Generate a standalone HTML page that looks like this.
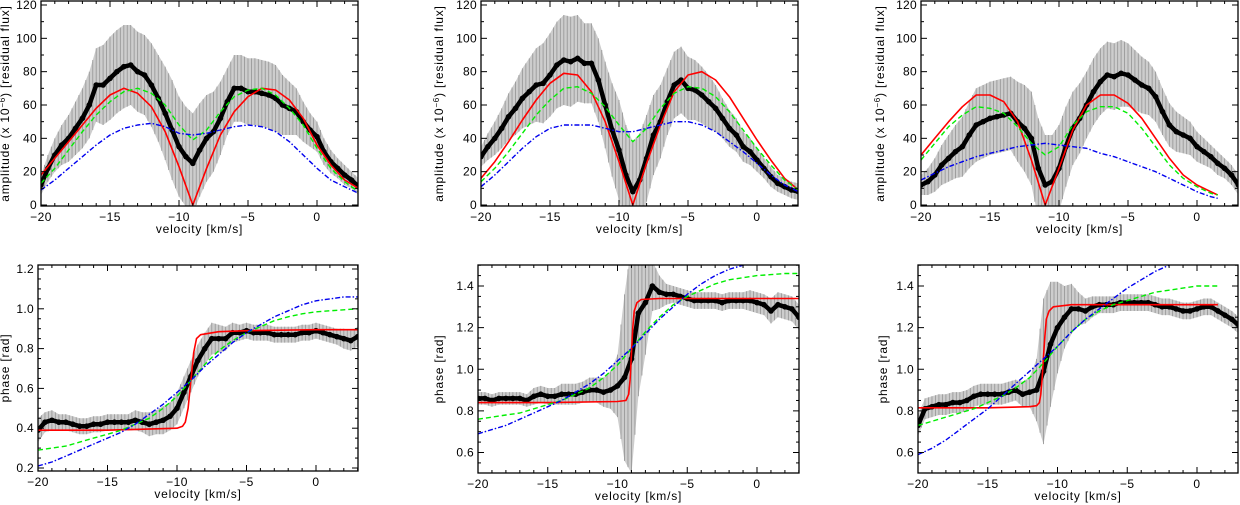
<!DOCTYPE html>
<html><head><meta charset="utf-8"><style>
body{margin:0;background:#fff}
svg{display:block;font-family:"Liberation Sans",sans-serif}
</style></head><body>
<svg id="fig" width="1240" height="505" viewBox="0 0 1240 505"></svg>
<script>
const VEL=[-20,-19.5,-19,-18.5,-18,-17.5,-17,-16.5,-16,-15.5,-15,-14.5,-14,-13.5,-13,-12.5,-12,-11.5,-11,-10.5,-10,-9.5,-9,-8.5,-8,-7.5,-7,-6.5,-6,-5.5,-5,-4.5,-4,-3.5,-3,-2.5,-2,-1.5,-1,-0.5,0,0.5,1,1.5,2,2.5,3];
const MV=[-20,-19,-18,-17,-16,-15,-14,-13,-12,-11,-10,-9,-8,-7,-6,-5,-4,-3,-2,-1,0,1,2,3];
const MVC=[-20,-19,-18,-17,-16,-15,-14,-13,-12,-11,-10,-9,-8,-7,-6,-5,-4,-3,-2,-1,0,1,1.5];
const MVF=[-20,-19,-18,-17,-16,-15,-14,-13,-12,-11,-10,-9,-8,-7,-6,-5,-4,-3,-2,-1];
// panel A
const A_dots=[12,22,30,36,40,46,52,60,72,72,76,80,83,84,80,78,72,64,55,45,35,29,25,33,40,44,52,62,70,70,68,68,67,66,64,60,58,56,50,45,41,32,26,22,18,15,11];
const A_err=[6,8,10,12,14,16,18,20,22,24,25,25,25,24,24,24,25,26,28,30,30,30,30,28,26,24,22,20,20,20,20,20,20,20,20,18,16,14,12,10,9,8,7,6,6,5,5];
const A_red=[18,28,38,48,58,66,70,67,59,44,23,0,22,42,56,65,70,69,63,52,36,24,15,10];
const A_green=[13,22,33,44,54,62,68,70,67,60,48,39,45,56,65,69,70,66,58,48,34,22,14,8];
const A_blue=[9,15,22,29,36,42,46,48,49,47,43,42,43,45,47,48,47,44,38,30,22,15,11,7];
// panel B
const B_dots=[29,35,40,46,53,58,64,68,72,73,78,84,87,86,88,85,85,75,60,45,33,18,8,15,28,42,50,62,72,75,70,69,66,62,58,52,46,42,35,32,27,22,17,13,11,9,8];
const B_err=[6,8,10,12,14,16,18,20,22,24,25,26,27,27,26,24,24,25,26,28,30,30,30,28,26,24,22,20,20,20,19,18,17,16,14,12,11,10,9,8,7,6,6,5,5,5,5];
const B_red=[16,26,38,51,63,73,79,78,68,50,26,0,25,48,68,78,80,75,65,52,39,27,16,9];
const B_green=[14,22,32,43,54,63,70,71,67,59,48,38,46,58,67,71,70,65,56,45,34,24,15,9];
const B_blue=[11,18,26,34,41,46,48,48,48,46,44,44,46,48,50,50,48,44,38,32,25,18,12,8];
// panel C
const C_dots=[12,14,18,24,28,32,35,42,48,50,52,53,54,55,50,46,40,22,12,14,22,35,46,52,60,68,74,78,77,79,78,75,72,70,65,56,48,44,42,40,35,32,29,25,22,18,12];
const C_err=[6,8,10,12,14,16,18,20,22,22,22,22,22,22,24,26,28,30,30,28,26,24,22,21,20,20,20,20,20,20,19,18,17,16,15,14,13,12,11,10,9,8,7,7,6,6,6];
const C_red=[30,40,50,59,66,66,62,50,27,0,22,45,60,66,66,61,52,40,28,18,12,8,6];
const C_green=[27,37,47,54,59,58,55,47,37,30,35,48,56,59,59,55,46,35,24,16,11,7,6];
const C_blue=[15,19,23,26,29,31,33,35,36,37,36,35,34,31,29,26,23,20,16,12,8,5,4];
// panel D
const D_dots=[0.39,0.43,0.44,0.43,0.43,0.42,0.41,0.41,0.42,0.42,0.43,0.43,0.43,0.43,0.44,0.43,0.42,0.43,0.44,0.46,0.50,0.58,0.66,0.74,0.80,0.85,0.85,0.85,0.88,0.88,0.89,0.88,0.88,0.88,0.87,0.87,0.87,0.87,0.88,0.88,0.89,0.88,0.87,0.86,0.85,0.84,0.86];
const D_err=[0.06,0.05,0.05,0.04,0.04,0.04,0.04,0.04,0.04,0.04,0.04,0.04,0.04,0.04,0.05,0.05,0.06,0.06,0.07,0.07,0.08,0.08,0.08,0.08,0.08,0.08,0.07,0.06,0.05,0.04,0.04,0.04,0.04,0.04,0.04,0.04,0.04,0.04,0.04,0.04,0.04,0.04,0.04,0.04,0.05,0.05,0.05];
const D_redV=[-20,-15,-10,-9.6,-9.4,-9.2,-9.0,-8.8,-8.6,-8.3,-7,-5,0,3];
const D_red=[0.39,0.39,0.40,0.41,0.43,0.50,0.64,0.78,0.85,0.87,0.885,0.89,0.895,0.895];
const D_green=[0.29,0.30,0.31,0.33,0.35,0.37,0.39,0.42,0.45,0.50,0.56,0.64,0.72,0.79,0.84,0.88,0.91,0.94,0.96,0.975,0.985,0.99,0.995,1.0];
const D_blue=[0.21,0.23,0.26,0.29,0.32,0.35,0.38,0.42,0.47,0.52,0.58,0.64,0.71,0.77,0.83,0.88,0.92,0.96,0.99,1.02,1.04,1.05,1.06,1.06];
// panel E
const E_dots=[0.86,0.86,0.85,0.86,0.86,0.86,0.86,0.85,0.87,0.88,0.87,0.87,0.88,0.88,0.88,0.89,0.90,0.90,0.89,0.90,0.92,0.96,1.05,1.27,1.32,1.40,1.37,1.36,1.36,1.35,1.34,1.33,1.33,1.33,1.33,1.32,1.33,1.33,1.33,1.33,1.32,1.31,1.28,1.31,1.30,1.29,1.25];
const E_err=[0.03,0.03,0.03,0.03,0.03,0.03,0.03,0.03,0.04,0.04,0.04,0.04,0.05,0.05,0.05,0.05,0.06,0.06,0.07,0.09,0.15,0.4,0.55,0.4,0.25,0.12,0.08,0.05,0.04,0.04,0.04,0.04,0.04,0.04,0.04,0.04,0.04,0.04,0.04,0.05,0.05,0.05,0.06,0.06,0.06,0.06,0.06];
const E_redV=[-20,-15,-10,-9.4,-9.2,-9.1,-9.0,-8.9,-8.8,-8.6,-8.3,-7,-5,0,3];
const E_red=[0.84,0.84,0.845,0.85,0.88,0.95,1.08,1.2,1.28,1.32,1.335,1.34,1.34,1.34,1.34];
const E_green=[0.76,0.77,0.78,0.79,0.81,0.83,0.85,0.88,0.91,0.96,1.02,1.10,1.18,1.25,1.31,1.35,1.38,1.41,1.43,1.44,1.45,1.455,1.46,1.46];
const E_blue=[0.69,0.71,0.73,0.76,0.79,0.82,0.85,0.89,0.93,0.98,1.04,1.10,1.17,1.24,1.30,1.36,1.41,1.45,1.48,1.50,1.52,1.54,1.55,1.56];
// panel F
const F_dots=[0.73,0.81,0.82,0.83,0.83,0.84,0.84,0.85,0.87,0.88,0.88,0.88,0.88,0.89,0.90,0.88,0.89,0.90,0.99,1.12,1.20,1.25,1.29,1.29,1.28,1.30,1.31,1.31,1.31,1.32,1.32,1.32,1.32,1.32,1.31,1.30,1.30,1.29,1.28,1.28,1.29,1.30,1.30,1.28,1.26,1.24,1.21];
const F_err=[0.05,0.05,0.05,0.05,0.05,0.05,0.05,0.05,0.05,0.05,0.05,0.05,0.05,0.05,0.05,0.06,0.07,0.15,0.35,0.3,0.22,0.15,0.12,0.08,0.06,0.05,0.04,0.04,0.04,0.04,0.04,0.04,0.04,0.04,0.04,0.04,0.04,0.04,0.04,0.04,0.04,0.04,0.04,0.04,0.04,0.04,0.04];
const F_redV=[-20,-15,-12,-11.5,-11.3,-11.2,-11.1,-11.0,-10.9,-10.8,-10.6,-10.3,-9,-5,0,1.5];
const F_red=[0.815,0.815,0.82,0.825,0.84,0.88,0.96,1.06,1.16,1.24,1.28,1.30,1.31,1.31,1.31,1.31];
const F_green=[0.73,0.75,0.77,0.79,0.81,0.84,0.87,0.91,0.96,1.03,1.11,1.18,1.24,1.28,1.31,1.33,1.35,1.37,1.38,1.39,1.40,1.40,1.40];
const F_blue=[0.59,0.62,0.66,0.71,0.76,0.81,0.87,0.93,0.99,1.05,1.11,1.18,1.24,1.29,1.34,1.39,1.43,1.47,1.50,1.53];

const AMP_TICKS=[0,20,40,60,80,100,120];
const AMP_LABELS=["0","20","40","60","80","100","120"];
const PHA_TICKS=[0.2,0.4,0.6,0.8,1.0,1.2];
const PHB_TICKS=[0.6,0.8,1.0,1.2,1.4];
const X_TICKS=[-20,-15,-10,-5,0];
const X_LABELS=["\u221220","\u221215","\u221210","\u22125","0"];

const NS="http://www.w3.org/2000/svg";
const svg=document.getElementById('fig');
function mk(tag,attrs,parent){const e=document.createElementNS(NS,tag);for(const k in attrs)e.setAttribute(k,attrs[k]);(parent||svg).appendChild(e);return e;}

const panels=[
 {id:'a',L:41,R:358,T:1,B:206,vx0:41,vx1:317,yv0:0,yp0:205,yv1:120,yp1:5,ymin:0,ymax:120,minor:10,yt:AMP_TICKS,yl:AMP_LABELS,amp:true,ylx:9,dots:A_dots,err:A_err,mods:[[MV,A_red],[MV,A_green],[MV,A_blue]]},
 {id:'b',L:481,R:798,T:1,B:206,vx0:481,vx1:757,yv0:0,yp0:205,yv1:120,yp1:5,ymin:0,ymax:120,minor:10,yt:AMP_TICKS,yl:AMP_LABELS,amp:true,ylx:443,dots:B_dots,err:B_err,mods:[[MV,B_red],[MV,B_green],[MV,B_blue]]},
 {id:'c',L:921,R:1238,T:1,B:206,vx0:921,vx1:1197,yv0:0,yp0:205,yv1:120,yp1:5,ymin:0,ymax:120,minor:10,yt:AMP_TICKS,yl:AMP_LABELS,amp:true,ylx:884,dots:C_dots,err:C_err,mods:[[MVC,C_red],[MVC,C_green],[MVC,C_blue]]},
 {id:'d',L:38,R:358,T:265,B:471,vx0:38,vx1:316,yv0:0.2,yp0:468,yv1:1.2,yp1:269,ymin:0.18,ymax:1.22,minor:0.05,yt:PHA_TICKS,yl:["0.2","0.4","0.6","0.8","1.0","1.2"],amp:false,ylx:9,dots:D_dots,err:D_err,mods:[[D_redV,D_red],[MV,D_green],[MV,D_blue]]},
 {id:'e',L:478,R:799,T:265,B:473,vx0:478,vx1:757,yv0:0.6,yp0:452.5,yv1:1.4,yp1:286,ymin:0.5,ymax:1.5,minor:0.05,yt:PHB_TICKS,yl:["0.6","0.8","1.0","1.2","1.4"],amp:false,ylx:443,dots:E_dots,err:E_err,mods:[[E_redV,E_red],[MV,E_green],[MV,E_blue]]},
 {id:'f',L:918,R:1238,T:265,B:473,vx0:918,vx1:1197,yv0:0.6,yp0:452.5,yv1:1.4,yp1:286,ymin:0.5,ymax:1.5,minor:0.05,yt:PHB_TICKS,yl:["0.6","0.8","1.0","1.2","1.4"],amp:false,ylx:887,dots:F_dots,err:F_err,mods:[[F_redV,F_red],[MVC,F_green],[MVF,F_blue]]}
];
const styles=[{c:'#ff0000',w:1.6,d:''},{c:'#00ee00',w:1.4,d:'5,3'},{c:'#0000ee',w:1.4,d:'5,2,1.5,2'}];
const names=['red-model-line','green-model-line','blue-model-line'];

panels.forEach(p=>{
  const g=mk('g',{});
  
  
  const sx=v=>p.vx0+(v+20)*(p.vx1-p.vx0)/20;
  const sy=v=>p.yp0+(v-p.yv0)*(p.yp1-p.yp0)/(p.yv1-p.yv0);
  const cp=mk('clipPath',{id:'clip'+p.id},g);
  mk('rect',{x:p.L,y:p.T,width:p.R-p.L,height:p.B-p.T},cp);
  const pg=mk('g',{'clip-path':'url(#clip'+p.id+')'},g);
  let up=[],lo=[];
  VEL.forEach((v,i)=>{up.push(sx(v).toFixed(1)+','+sy(p.dots[i]+p.err[i]).toFixed(1));lo.push(sx(v).toFixed(1)+','+sy(p.dots[i]-p.err[i]).toFixed(1));});
  const band=mk('polygon',{points:up.concat(lo.reverse()).join(' '),fill:'#cdcdcd'},pg);
  
  
  const eg=mk('g',{stroke:'#9a9a9a','stroke-width':0.9},pg);
  VEL.forEach((v,i)=>{
    const l=mk('line',{x1:sx(v),x2:sx(v),y1:sy(p.dots[i]+p.err[i]),y2:sy(p.dots[i]-p.err[i])},eg);
    
    
    if(i<VEL.length-1){
      const vm=(v+VEL[i+1])/2, dm=(p.dots[i]+p.dots[i+1])/2, em=(p.err[i]+p.err[i+1])/2;
      const l2=mk('line',{x1:sx(vm),x2:sx(vm),y1:sy(dm+em),y2:sy(dm-em)},eg);
      
      
    }
  });
  const dl=mk('polyline',{points:VEL.map((v,i)=>sx(v).toFixed(1)+','+sy(p.dots[i]).toFixed(1)).join(' '),fill:'none',stroke:'#000','stroke-width':4.5,'stroke-linejoin':'round','stroke-linecap':'round'},pg);
  
  
  VEL.forEach((v,i)=>{
    const c=mk('circle',{cx:sx(v),cy:sy(p.dots[i]),r:2.8,fill:'#000'},pg);
    
    
  });
  p.mods.forEach((m,k)=>{
    const s=styles[k];
    const pl=mk('polyline',{points:m[0].map((v,i)=>sx(v).toFixed(1)+','+sy(m[1][i]).toFixed(1)).join(' '),fill:'none',stroke:s.c,'stroke-width':s.w,'stroke-dasharray':s.d,'stroke-linejoin':'round'},pg);
    
    
  });
  const fr=mk('rect',{x:p.L,y:p.T,width:p.R-p.L,height:p.B-p.T,fill:'none',stroke:'#000','stroke-width':1.3},g);
  
  
  for(let v=-20;v<=3;v++){
    const x=sx(v); if(x>p.R) continue;
    const len=(v%5===0)?6:3;
    mk('line',{x1:x,x2:x,y1:p.B,y2:p.B-len,stroke:'#000','stroke-width':1},g);
    mk('line',{x1:x,x2:x,y1:p.T,y2:p.T+len,stroke:'#000','stroke-width':1},g);
  }
  X_TICKS.forEach((v,i)=>{
    const t=mk('text',{x:sx(v),y:p.B+15,'font-size':12,'text-anchor':'middle','letter-spacing':0.5},g);
    t.textContent=X_LABELS[i];
    
    
  });
  const st=p.minor;
  for(let v=Math.ceil(p.ymin/st)*st;v<=p.ymax+1e-9;v+=st){
    const y=sy(v); if(y<p.T||y>p.B) continue;
    const isMaj=p.yt.some(t=>Math.abs(t-v)<1e-6);
    const len=isMaj?6:3;
    mk('line',{x1:p.L,x2:p.L+len,y1:y,y2:y,stroke:'#000','stroke-width':1},g);
    mk('line',{x1:p.R,x2:p.R-len,y1:y,y2:y,stroke:'#000','stroke-width':1},g);
  }
  p.yt.forEach((v,i)=>{
    const t=mk('text',{x:p.L-4,y:sy(v)+4,'font-size':12,'text-anchor':'end','letter-spacing':0.3},g);
    t.textContent=p.yl[i];
    
    
  });
  const xt=mk('text',{x:(p.L+p.R)/2,y:p.B+27,'font-size':12,'text-anchor':'middle','letter-spacing':0.8},g);
  xt.textContent='velocity [km/s]';
  
  
  const cy=(p.T+p.B)/2;
  const yt=mk('text',{x:p.ylx,y:cy,'font-size':12,'text-anchor':'middle','letter-spacing':0.8,transform:`rotate(-90 ${p.ylx} ${cy})`},g);
  
  
  if(p.amp){
    yt.innerHTML='amplitude (x 10<tspan font-size="8" dy="-4">\u22126</tspan><tspan dy="4">) [residual flux]</tspan>';
  } else yt.textContent='phase [rad]';
});
</script>
</body></html>
